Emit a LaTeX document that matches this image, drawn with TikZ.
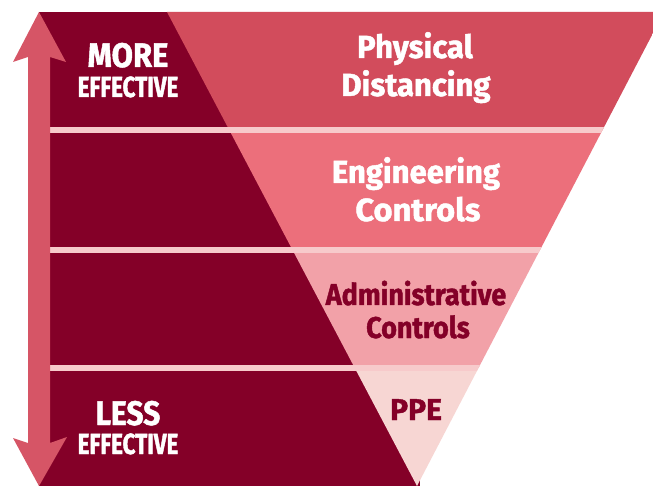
\documentclass[tikz,border=0pt]{standalone}
\usepackage{fontspec}
\newfontfamily\condA[FakeStretch=0.91,FakeBold=1.4]{Fira Sans}
\newfontfamily\condB[FakeStretch=0.77,FakeBold=1.4]{Fira Sans}
\newfontfamily\condC[FakeStretch=0.88,FakeBold=1.4]{Fira Sans}
\newfontfamily\wideA[FakeStretch=0.97,FakeBold=1.4]{Fira Sans}
\newfontfamily\wideB[FakeStretch=1.02,FakeBold=1.4]{Fira Sans}
\newfontfamily\midA[FakeStretch=0.9,FakeBold=1.4]{Fira Sans}
\newfontfamily\midB[FakeStretch=1.0,FakeBold=1.4]{Fira Sans}
\usetikzlibrary{calc}
\definecolor{darkred}{HTML}{840028}
\definecolor{bandA}{HTML}{D24C5C}
\definecolor{bandB}{HTML}{EC6F7B}
\definecolor{bandC}{HTML}{F2A1A8}
\definecolor{bandD}{HTML}{F7D6D3}
\definecolor{sepc}{HTML}{F7CACB}
\definecolor{arrowc}{HTML}{D65566}
\tikzset{
  lbl/.style={inner sep=0pt, anchor=base},
  whitelbl/.style={lbl, text=white},
  darklbl/.style={lbl, text=darkred},
}
\begin{document}
\begin{tikzpicture}[x=1pt,y=-1pt]
\useasboundingbox (0,0) rectangle (653,486);
\fill[white] (0,0) rectangle (653,486);
\coordinate (TL) at (167,12);
\coordinate (TR) at (664,12);
\coordinate (AP) at (417,486);
% dark left region
\fill[darkred] (39,12) rectangle (420,486);
% inverted triangle bands
\begin{scope}
  \clip (TL) -- (TR) -- (AP) -- cycle;
  \fill[bandA] (100,0) rectangle (700,130);
  \fill[bandB] (100,130) rectangle (700,250);
  \fill[bandC] (100,250) rectangle (700,368);
  \fill[bandD] (100,368) rectangle (700,490);
\end{scope}
% separators
\begin{scope}
  \clip (39,12) -- (TR) -- (AP) -- (39,486) -- cycle;
  \fill[sepc] (0,127) rectangle (700,133);
  \fill[sepc] (0,247) rectangle (700,253);
  \fill[sepc] (0,365) rectangle (700,371);
\end{scope}
% double arrow
\fill[arrowc] (28,57) -- (13,62) -- (39,12) -- (66,62) -- (50,57)
  -- (50,443) -- (67,437) -- (39,486) -- (13,438) -- (28,443) -- cycle;
% labels
\node[whitelbl, font=\condA\bfseries\fontsize{34}{34}\selectfont] (more) at (128,67) {MORE};
\node[whitelbl, font=\condB\bfseries\fontsize{29}{29}\selectfont] (eff1) at (128,97) {EFFECTIVE};
\node[whitelbl, font=\condC\bfseries\fontsize{34}{34}\selectfont] (less) at (128,425) {LESS};
\node[whitelbl, font=\condB\bfseries\fontsize{29}{29}\selectfont] (eff2) at (128,454) {EFFECTIVE};
\node[whitelbl, font=\wideA\bfseries\fontsize{32}{32}\selectfont] (phys1) at (415,58) {Physical};
\node[whitelbl, font=\wideA\bfseries\fontsize{32}{32}\selectfont] (phys2) at (416,96) {Distancing};
\node[whitelbl, font=\wideA\bfseries\fontsize{32}{32}\selectfont] (eng1) at (416,183) {Engineering};
\node[whitelbl, font=\wideB\bfseries\fontsize{32}{32}\selectfont] (eng2) at (418,221) {Controls};
\node[darklbl, font=\midA\bfseries\fontsize{30}{30}\selectfont] (adm1) at (416,305) {Administrative};
\node[darklbl, font=\midA\bfseries\fontsize{30}{30}\selectfont] (adm2) at (418,338) {Controls};
\node[darklbl, font=\midB\bfseries\fontsize{30}{30}\selectfont] (ppe) at (416,420) {PPE};
\end{tikzpicture}
\end{document}
